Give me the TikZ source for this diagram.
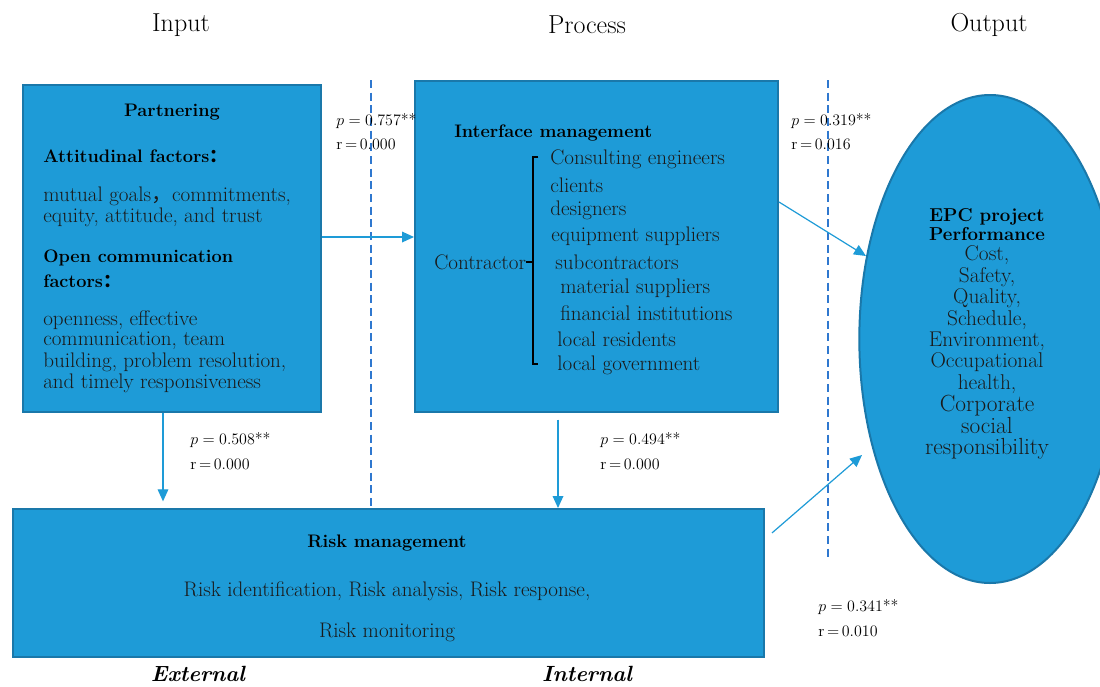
\documentclass[tikz,border=0pt]{standalone}
\usepackage{fontspec}
\newfontfamily\cjk{Noto Sans CJK SC}
\usetikzlibrary{arrows.meta,shapes.geometric,fit}
\definecolor{boxfill}{HTML}{1E9BD7}
\definecolor{boxline}{HTML}{1A78AA}
\definecolor{arrowc}{HTML}{1E9BD7}
\definecolor{dashc}{HTML}{2F78CF}
\definecolor{ink}{HTML}{1A1A1A}
\begin{document}
\begin{tikzpicture}[x=0.75pt,y=-0.75pt,
  box/.style={draw=boxline, fill=boxfill, line width=1.5pt, inner sep=0pt},
  txt/.style={anchor=west, inner sep=0pt, text=ink, font=\fontsize{15.8}{17}\selectfont},
  ctxt/.style={anchor=center, inner sep=0pt, text=ink, font=\fontsize{15.8}{17}\selectfont},
  btxt/.style={anchor=west, inner sep=0pt, text=black, font=\fontsize{13.6}{16}\selectfont\bfseries},
  etxt/.style={anchor=base, inner sep=0pt, text=ink, font=\fontsize{16}{17}\selectfont},
  ebtxt/.style={anchor=base, inner sep=0pt, text=black, font=\fontsize{14}{16}\selectfont\bfseries},
  eltxt/.style={anchor=base, inner sep=0pt, text=ink, font=\fontsize{17.5}{18}\selectfont},
  title/.style={anchor=center, inner sep=0pt, text=black, font=\fontsize{19.5}{22}\selectfont},
  stat/.style={anchor=west, inner sep=0pt, text=black, font=\fontsize{12}{14}\selectfont},
  arr/.style={draw=arrowc, line width=0.9pt, -{Triangle[length=9pt,width=8pt]}},
  sep/.style={draw=dashc, line width=1.2pt, dash pattern=on 6pt off 3.5pt},
  brk/.style={draw=black, line width=1pt}]
\clip (0,0) rectangle (1100,686);
\fill[white] (0,0) rectangle (1100,686);

% titles
\node[title] (tin) at (181,25) {Input};
\node[title] (tpr) at (587,25) {Process};
\node[title] (tout) at (989,25) {Output};

% dashed separators
\coordinate (d1a) at (371,80); \coordinate (d1b) at (371,508);
\coordinate (d2a) at (828,80); \coordinate (d2b) at (828,558);
\draw[sep] (d1a) -- (d1b);
\draw[sep] (d2a) -- (d2b);

% boxes
\node[box, fit={(23,85) (321,412)}] (part) {};
\node[box, fit={(415,81) (778,412)}] (int) {};
\node[box, fit={(13,509) (764,657)}] (risk) {};
\node[ellipse, draw=boxline, fill=boxfill, line width=1.5pt, inner sep=0pt,
      minimum width=196pt, minimum height=366pt] (ell) at (990,339) {};

% Partnering text
\node[ctxt, font=\fontsize{13.6}{16}\selectfont\bfseries, text=black] (pt) at (172,112) {Partnering};
\node[btxt] (p1) at (43,156) {Attitudinal factors{\cjk：}};
\node[txt] (p2) at (43,196) {mutual goals{\cjk，}commitments,};
\node[txt] (p3) at (43,217) {equity, attitude, and trust};
\node[btxt] (p4) at (43,258) {Open communication};
\node[btxt] (p5) at (43,281) {factors{\cjk：}};
\node[txt] (p6) at (43,320) {openness, effective};
\node[txt] (p7) at (43,341) {communication, team};
\node[txt] (p8) at (43,362) {building, problem resolution,};
\node[txt] (p9) at (43,383) {and timely responsiveness};

% Interface text
\node[btxt] (it) at (454,133) {Interface management};
\node[txt] (i1) at (550,159) {Consulting engineers};
\node[txt] (i2) at (550,185) {clients};
\node[txt] (i3) at (550,210) {designers};
\node[txt] (i4) at (551,236) {equipment suppliers};
\node[txt] (i5) at (555,262) {subcontractors};
\node[txt] (i6) at (560,288) {material suppliers};
\node[txt] (i7) at (560,313) {financial institutions};
\node[txt] (i8) at (557,339) {local residents};
\node[txt] (i9) at (557,365) {local government};
\node[txt] (con) at (434,262) {Contractor};
% bracket
\coordinate (bt) at (533,157); \coordinate (bb) at (533,364); \coordinate (bm) at (533,262);
\draw[brk] ([xshift=4pt]bt) -- (bt) -- (bb) -- ([xshift=4pt]bb);
\draw[brk] (con.east) -- (bm);

% Risk text
\node[ctxt, font=\fontsize{13.6}{16}\selectfont\bfseries, text=black] (rt) at (387,543) {Risk management};
\node[ctxt] (r1) at (387,591) {Risk identification, Risk analysis, Risk response,};
\node[ctxt] (r2) at (387,632) {Risk monitoring};

% Ellipse text (baselines)
\node[ebtxt] (e01) at (987,221) {EPC project};
\node[ebtxt] (e02) at (987,240) {Performance};
\node[etxt] (e03) at (987,260) {Cost,};
\node[etxt] (e04) at (987,282) {Safety,};
\node[etxt] (e05) at (987,303) {Quality,};
\node[etxt] (e06) at (987,325) {Schedule,};
\node[etxt] (e07) at (987,346) {Environment,};
\node[etxt] (e08) at (987,367) {Occupational};
\node[etxt] (e09) at (987,389) {health,};
\node[eltxt] (e10) at (987,411) {Corporate};
\node[eltxt] (e11) at (987,433) {social};
\node[eltxt] (e12) at (987,454) {responsibility};

% bottom labels
\node[title, font=\fontsize{16.5}{19}\selectfont\bfseries\itshape] (ext) at (198,674) {External};
\node[title, font=\fontsize{16.5}{19}\selectfont\bfseries\itshape] (inl) at (587,674) {Internal};

% arrows
\coordinate (e1) at (866,256);
\coordinate (e2) at (862,455);
\draw[arr] (part.east |- 0,237) -- (int.west |- 0,237);
\draw[arr, shorten >=5pt] (part.south -| 163,0) -- (risk.north -| 163,0);
\draw[arr, shorten <=5pt] (int.south -| 558,0) -- (risk.north -| 558,0);
\draw[arr] (int.east |- 0,202) -- (e1);
\draw[arr, shorten <=7pt] (risk.east |- 0,539) -- (e2);

% statistics
\node[stat] (s1a) at (336,121) {$p=0.757$**};
\node[stat] (s1b) at (336,144) {r\,=\,0.000};
\node[stat] (s2a) at (791,121) {$p=0.319$**};
\node[stat] (s2b) at (791,144) {r\,=\,0.016};
\node[stat] (s3a) at (190,440) {$p=0.508$**};
\node[stat] (s3b) at (190,464) {r\,=\,0.000};
\node[stat] (s4a) at (600,440) {$p=0.494$**};
\node[stat] (s4b) at (600,464) {r\,=\,0.000};
\node[stat] (s5a) at (818,607) {$p=0.341$**};
\node[stat] (s5b) at (818,631) {r\,=\,0.010};
\end{tikzpicture}
\end{document}
